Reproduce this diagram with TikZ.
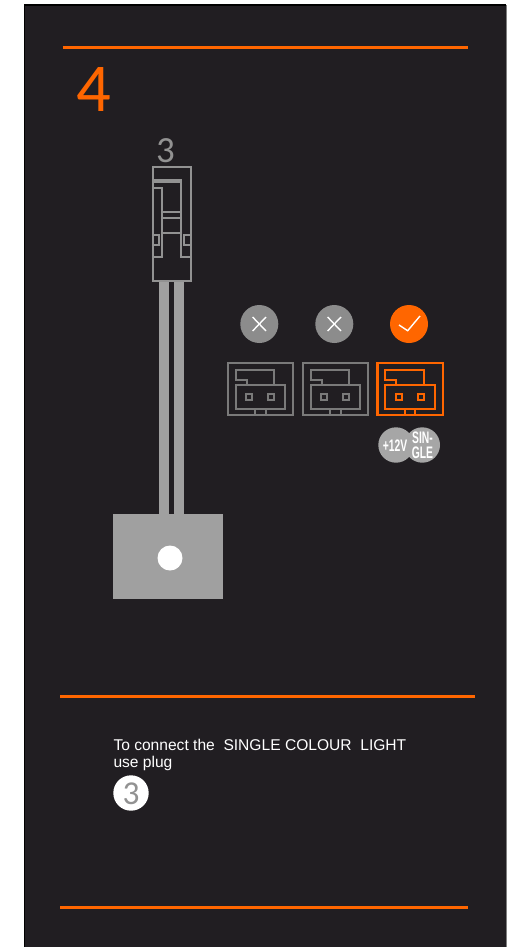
\documentclass[tikz,border=0pt]{standalone}
\usepackage{fontspec}
\usepackage{xcolor}
\setmainfont{Liberation Sans}
\newfontfamily\digitfont{Carlito}
\newfontfamily\badgefont[FakeStretch=0.62]{Liberation Sans}
\definecolor{panelgrey}{HTML}{211E22}
\definecolor{plugorange}{HTML}{FF6600}
\definecolor{pluggrey}{HTML}{929292}
\definecolor{socketgrey}{HTML}{7A7A7A}
\definecolor{wiregrey}{HTML}{A0A0A0}
\begin{document}
\begin{tikzpicture}[x=0.02cm,y=-0.02cm,
  every node/.style={inner sep=0pt,outer sep=0pt},
  rule/.style={plugorange,line width=0.06cm},
  plug/.style={pluggrey,line width=0.04cm},
  greyplug/.style={socketgrey,line width=0.042cm},
  orangeplug/.style={plugorange,line width=0.042cm},
  statusmark/.style={white,line width=0.028cm}]
\useasboundingbox (0,0) rectangle (513,947);
\fill[white] (0,0) rectangle (513,947);
\fill[panelgrey] (24.5,5) rectangle (506,947);
\draw[black,line width=0.03cm] (24.5,947) -- (24.5,5) -- (506,5);
\draw[gray,line width=0.02cm] (506,5) -- (506,947);
% orange rules
\draw[rule] (62.7,47.5) -- (468,47.5);
\draw[rule] (60,696.5) -- (475,696.5);
\draw[rule] (60,907) -- (468,907);
\node[anchor=base,text=plugorange,font=\fontsize{39}{39}\digitfont] (stepnum) at (93.5,111) {4};
\node[anchor=base,text=pluggrey,font=\fontsize{21}{21}\digitfont] (plugnum) at (165.5,162.5) {3};
% plug with wires
\fill[wiregrey] (159.3,281) rectangle (169.3,514);
\fill[wiregrey] (174.3,281) rectangle (184.3,514);
\fill[wiregrey] (113,514) rectangle (223,599);
\fill[white] (170,558) circle (12.5);
\draw[plug] (152.5,166.5) rectangle (190.5,281);
\draw[plug] (152.5,179.5) -- (181,179.5) -- (181,257) -- (190.5,257);
\draw[plug] (152.5,182) -- (181,182);
\draw[plug] (152.5,188) -- (162,188) -- (162,257) -- (152.5,257);
\draw[plug] (162,211.7) -- (181,211.7);
\draw[plug] (162,217.7) -- (181,217.7);
\draw[plug] (162,232.7) -- (181,232.7);
\draw[plug] (152.5,235) rectangle (158.7,245);
\draw[plug] (184,235) rectangle (190.5,245);
% status marks
\fill[gray!90] (259.3,324) circle (19);
\draw[statusmark] (252.6,317) -- (266,331);
\draw[statusmark] (252.6,331) -- (266,317);
\fill[gray!90] (334.3,324) circle (19);
\draw[statusmark] (327.6,317) -- (341,331);
\draw[statusmark] (327.6,331) -- (341,317);
\fill[plugorange] (409,324) circle (19);
\draw[statusmark] (399,325) -- (407.7,330.7) -- (420,316);
% sockets
\draw[greyplug] (227.8,362.8) rectangle (293,414.6);
\draw[greyplug] (235.6,369.6) -- (274,369.6) -- (274,384.6) -- (285,384.6) -- (285,408.6) -- (235.6,408.6) -- (235.6,384.6) -- (246.6,384.6) -- (246.6,379.6) -- (235.6,379.6) -- cycle;
\draw[greyplug] (246.6,384.6) -- (274,384.6);
\draw[greyplug] (255,408.6) rectangle (265.6,414.6);
\draw[greyplug] (246,394) rectangle (252,400);
\draw[greyplug] (268.3,394) rectangle (274.3,400);
\draw[greyplug] (302.8,362.8) rectangle (368,414.6);
\draw[greyplug] (310.6,369.6) -- (349,369.6) -- (349,384.6) -- (360,384.6) -- (360,408.6) -- (310.6,408.6) -- (310.6,384.6) -- (321.6,384.6) -- (321.6,379.6) -- (310.6,379.6) -- cycle;
\draw[greyplug] (321.6,384.6) -- (349,384.6);
\draw[greyplug] (330,408.6) rectangle (340.6,414.6);
\draw[greyplug] (321,394) rectangle (327,400);
\draw[greyplug] (343.3,394) rectangle (349.3,400);
\draw[orangeplug] (377.5,362.8) rectangle (442.7,414.6);
\draw[orangeplug] (385.3,369.6) -- (423.7,369.6) -- (423.7,384.6) -- (434.7,384.6) -- (434.7,408.6) -- (385.3,408.6) -- (385.3,384.6) -- (396.3,384.6) -- (396.3,379.6) -- (385.3,379.6) -- cycle;
\draw[orangeplug] (396.3,384.6) -- (423.7,384.6);
\draw[orangeplug] (404.7,408.6) rectangle (415.3,414.6);
\draw[orangeplug] (395.7,394) rectangle (401.7,400);
\draw[orangeplug] (418,394) rectangle (424,400);
% voltage badges
\fill[gray!70] (396,445) circle (17.7);
\fill[gray!70] (422.3,445) circle (17.7);
\node[text=white,font=\fontsize{9.5}{9.5}\badgefont\bfseries] (voltage) at (395,445.5) {+12V};
\node[text=white,align=center,font=\fontsize{9.5}{8.8}\badgefont\bfseries] (single) at (422.5,445) {SIN-\\GLE};
% caption
\node[anchor=base west,text=white,font=\fontsize{8.87}{8.87}\selectfont] (captionone) at (113.5,750) {To connect the\ \ SINGLE COLOUR\ \ LIGHT};
\node[anchor=base west,text=white,font=\fontsize{8.87}{8.87}\selectfont] (captiontwo) at (113.5,767.5) {use plug};
\fill[white] (131,793) circle (17.7);
\node[anchor=base,text=pluggrey,font=\fontsize{19}{19}\digitfont] (capnum) at (131,804) {3};
\end{tikzpicture}
\end{document}
